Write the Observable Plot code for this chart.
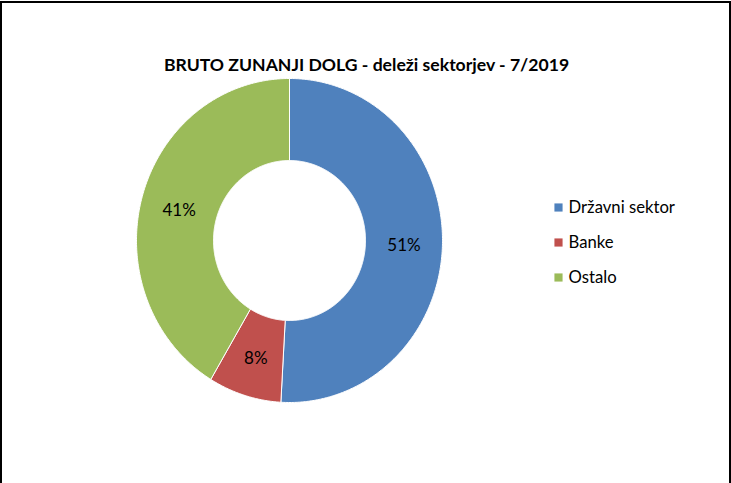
<!DOCTYPE html>
<html>
<head>
<meta charset="utf-8">
<script src="https://cdn.jsdelivr.net/npm/d3@7"></script>
<script src="https://cdn.jsdelivr.net/npm/@observablehq/plot@0.6"></script>
<style>
  html, body { margin: 0; padding: 0; background: #fff; overflow: hidden; }
  #wrap { position: relative; width: 731px; height: 483px; }
  #border { position: absolute; left: 0; top: 1px; width: 727px; height: 500px;
            border-top: 2px solid #000; border-left: 2px solid #000; border-right: 2px solid #000; }
  #chart { position: absolute; left: 0; top: 0; }
</style>
</head>
<body>
<div id="wrap"><div id="chart"></div><div id="border"></div></div>
<script>
const title = "BRUTO ZUNANJI DOLG - deleži sektorjev - 7/2019";
const categories = ["Državni sektor", "Banke", "Ostalo"];
const shares = [50.9, 7.7, 41.4];
const colors = ["#4F81BD", "#C0504D", "#9BBB59"];

const W = 731, H = 483;
const cx = 289, cy = 240;
const rxOuter = 153, ryOuter = 162, rxInner = 76, ryInner = 80;
const total = d3.sum(shares);

// build slice polygons from data
const points = [];
const labels = [];
let cum = 0;
categories.forEach((cat, i) => {
  const a0 = cum / total * 2 * Math.PI;
  cum += shares[i];
  const a1 = cum / total * 2 * Math.PI;
  const n = Math.max(8, Math.ceil((a1 - a0) / 0.01));
  const poly = [];
  for (let k = 0; k <= n; k++) {
    const a = a0 + (a1 - a0) * k / n;
    poly.push([cx + rxOuter * Math.sin(a), cy - ryOuter * Math.cos(a)]);
  }
  for (let k = n; k >= 0; k--) {
    const a = a0 + (a1 - a0) * k / n;
    poly.push([cx + rxInner * Math.sin(a), cy - ryInner * Math.cos(a)]);
  }
  poly.push(poly[0]);
  poly.forEach(([x, y]) => points.push({cat, x, y}));
  const am = (a0 + a1) / 2;
  const rx = (rxOuter + rxInner) / 2, ry = (ryOuter + ryInner) / 2;
  labels.push({cat, x: cx + rx * Math.sin(am), y: cy - ry * Math.cos(am) + 2,
               text: Math.round(shares[i] / total * 100) + "%"});
});

const legend = categories.map((cat, i) => ({cat, x: 558, y: 207 + i * 35}));
const font = "Lato, 'Open Sans', sans-serif";

const chart = Plot.plot({
  width: W, height: H,
  margin: 0,
  style: {background: "transparent"},
  x: {domain: [0, W], range: [0, W], axis: null},
  y: {domain: [0, H], range: [0, H], axis: null},
  color: {domain: categories, range: colors},
  marks: [
    Plot.line(points, {x: "x", y: "y", z: "cat", fill: "cat", stroke: "white", strokeWidth: 1, curve: "linear"}),
    Plot.text(labels, {x: "x", y: "y", text: "text", fontSize: 17, fill: "#000", fontFamily: font}),
    Plot.text([title], {x: 366, y: 65, text: d => d, fontSize: 17.6, fontWeight: "bold", fill: "#000", fontFamily: font}),
    Plot.dot(legend, {x: "x", y: "y", symbol: "square", r: 4.6, fill: "cat", stroke: null}),
    Plot.text(legend, {x: d => d.x + 10, y: "y", text: "cat", textAnchor: "start", fontSize: 16.7, fill: "#000", fontFamily: font})
  ]
});
document.getElementById("chart").appendChild(chart);
</script>
</body>
</html>
